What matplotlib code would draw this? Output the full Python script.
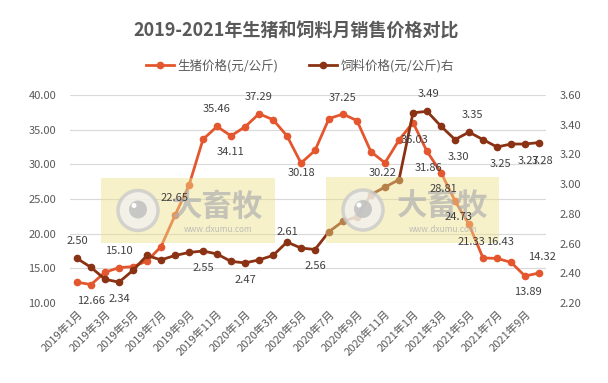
import matplotlib
matplotlib.use("Agg")
import matplotlib.pyplot as plt
from matplotlib.patches import Rectangle, Circle
from matplotlib.lines import Line2D

plt.rcParams["font.family"] = ["Noto Sans CJK SC", "DejaVu Sans"]
plt.rcParams["axes.unicode_minus"] = False

# 数据
months = [
    "2019年1月", "2019年2月", "2019年3月", "2019年4月", "2019年5月", "2019年6月",
    "2019年7月", "2019年8月", "2019年9月", "2019年10月", "2019年11月", "2019年12月",
    "2020年1月", "2020年2月", "2020年3月", "2020年4月", "2020年5月", "2020年6月",
    "2020年7月", "2020年8月", "2020年9月", "2020年10月", "2020年11月", "2020年12月",
    "2021年1月", "2021年2月", "2021年3月", "2021年4月", "2021年5月", "2021年6月",
    "2021年7月", "2021年8月", "2021年9月", "2021年10月",
]
pig_price = [
    13.00, 12.66, 14.43, 15.10, 15.24, 16.06, 18.12, 22.65, 26.97, 33.60,
    35.46, 34.11, 35.40, 37.29, 36.45, 34.10, 30.18, 32.00, 36.60, 37.25,
    36.30, 31.80, 30.22, 33.50, 36.03, 31.86, 28.81, 24.73, 21.33, 16.50,
    16.43, 15.87, 13.89, 14.32,
]
feed_price = [
    2.50, 2.44, 2.36, 2.34, 2.42, 2.52, 2.49, 2.52, 2.54, 2.55,
    2.53, 2.48, 2.47, 2.49, 2.52, 2.61, 2.57, 2.56, 2.68, 2.75,
    2.78, 2.93, 2.98, 3.03, 3.48, 3.49, 3.39, 3.30, 3.35, 3.30,
    3.25, 3.27, 3.27, 3.28,
]

# 数据标签位置（像素偏移）
pig_labels = {
    1: (0, -16), 3: (0, 17), 7: (0, 17), 10: (0, 17), 11: (0, -16),
    13: (0, 17), 16: (0, -10), 19: (0, 16), 22: (-2, -10), 24: (2, -17),
    25: (2, -17), 26: (2, -16), 27: (3, -16), 28: (2, -18), 30: (3, 16),
    32: (3, -16), 33: (3, 16),
}
feed_labels = {
    0: (0, 17), 3: (0, -17), 9: (0, -17), 12: (0, -17), 15: (0, 10),
    17: (0, -16), 25: (2, 17), 27: (3, -17), 28: (3, 17), 30: (3, -17),
    32: (3, -17), 33: (3, -18),
}

ORANGE = "#E4572E"
BROWN = "#8B3214"
GREY = "#595959"

W, H = 608, 383
fig = plt.figure(figsize=(W / 100, H / 100), dpi=100)
ax = fig.add_axes([70 / W, 1 - 303 / H, (546 - 70) / W, (303 - 95) / H])
ax2 = ax.twinx()

x = list(range(len(months)))
ax.plot(x, pig_price, color=ORANGE, linewidth=2.0, marker="o", markersize=4.5)
ax2.plot(x, feed_price, color=BROWN, linewidth=2.0, marker="o", markersize=4.5)

ax.set_xlim(-0.5, len(months) - 0.5)
ax.set_ylim(10, 40)
ax.set_yticks([10, 15, 20, 25, 30, 35, 40])
ax.set_yticklabels([f"{v:.2f}" for v in ax.get_yticks()])
ax2.set_ylim(2.2, 3.6)
ax2.set_yticks([2.2, 2.4, 2.6, 2.8, 3.0, 3.2, 3.4, 3.6])
ax2.set_yticklabels([f"{v:.2f}" for v in ax2.get_yticks()])

ax.set_xticks(x[::2])
ax.set_xticklabels(months[::2], rotation=45, ha="right", rotation_mode="anchor")

for a in (ax, ax2):
    for s in a.spines.values():
        s.set_visible(False)
    a.tick_params(length=0, labelsize=8, colors=GREY)
ax.tick_params(axis="y", pad=10)
ax2.tick_params(axis="y", pad=10)
ax.tick_params(axis="x", pad=4)
ax.grid(axis="y", color="#D9D9D9", linewidth=0.8)
ax.set_axisbelow(True)

# 标题与图例
fig.text(296 / W, 1 - 31 / H, "2019-2021年生猪和饲料月销售价格对比",
         ha="center", va="center", fontsize=13, fontweight="bold", color=GREY)
handles = [
    Line2D([], [], color=ORANGE, linewidth=2.0, marker="o", markersize=4.5),
    Line2D([], [], color=BROWN, linewidth=2.0, marker="o", markersize=4.5),
]
fig.legend(handles, ["生猪价格(元/公斤)", "饲料价格(元/公斤)右"],
           loc="center", bbox_to_anchor=(300 / W, 1 - 66 / H), ncol=2,
           frameon=False, fontsize=9, labelcolor=GREY,
           handlelength=2.2, handletextpad=0.3, columnspacing=2.5)

# 水印（覆盖在折线上方）
ov = fig.add_axes([0, 0, 1, 1], zorder=10)
ov.set_xlim(0, W)
ov.set_ylim(H, 0)
ov.axis("off")
ov.patch.set_alpha(0)
for x0, x1, y0, y1 in [(101, 275, 178, 243), (326, 499, 177, 243)]:
    ov.add_patch(Rectangle((x0, y0), x1 - x0, y1 - y0, facecolor="#EEE08A",
                           edgecolor="none", alpha=0.45, zorder=1))
    cx, cy = x0 + 37, (y0 + y1) / 2
    ov.add_patch(Circle((cx, cy), 20, facecolor="#F2F2F2", edgecolor="#C8C8C8",
                        linewidth=2.5, alpha=0.75, zorder=1))
    ov.add_patch(Circle((cx, cy - 1), 9, facecolor="#C0C0C0", edgecolor="none",
                        alpha=0.85, zorder=1))
    ov.add_patch(Circle((cx - 4, cy - 5), 2.5, facecolor="white", edgecolor="none",
                        zorder=1))
    tx = x0 + 117
    ov.text(tx, cy - 4, "大畜牧", ha="center", va="center", fontsize=22,
            fontweight="bold", color="#B0B0B0", alpha=0.7, zorder=1)
    ov.text(tx, cy + 19, "www.dxumu.com", ha="center", va="center", fontsize=6,
            color="#B0B0B0", alpha=0.8, zorder=1)

# 数据标签（最上层）
for i, (dx, dy) in pig_labels.items():
    ov.annotate(f"{pig_price[i]:.2f}", xy=(i, pig_price[i]), xycoords=ax.transData,
                xytext=(dx, dy), textcoords="offset pixels", zorder=5,
                ha="center", va="center", fontsize=8, color="#404040")
for i, (dx, dy) in feed_labels.items():
    ov.annotate(f"{feed_price[i]:.2f}", xy=(i, feed_price[i]), xycoords=ax2.transData,
                xytext=(dx, dy), textcoords="offset pixels", zorder=5,
                ha="center", va="center", fontsize=8, color="#404040")

fig.savefig("out.png", dpi=100)
